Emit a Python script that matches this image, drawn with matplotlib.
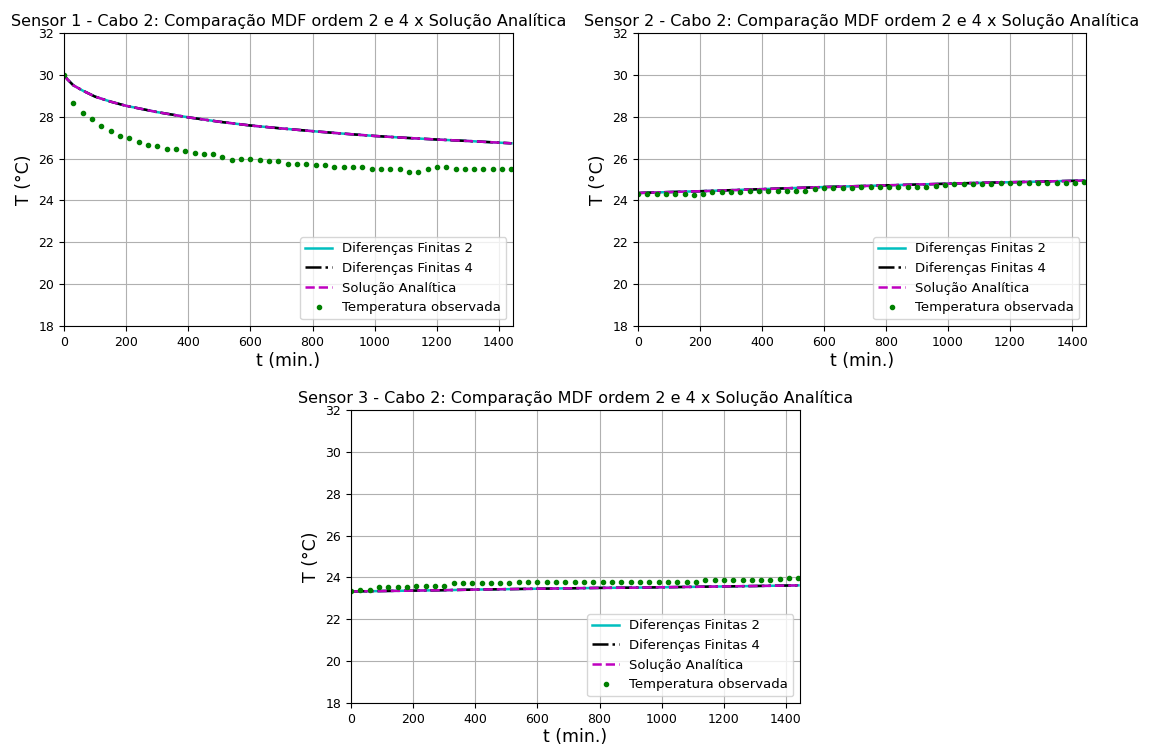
import numpy as np
import matplotlib.pyplot as plt

# tempo das observações (min), a cada 30 min
t_obs = np.arange(0, 1441, 30)

# Sensor 1 - temperatura observada
obs1 = [30.0, 28.64, 28.19, 27.87, 27.54, 27.30, 27.08, 26.97, 26.78, 26.65,
        26.59, 26.46, 26.46, 26.38, 26.27, 26.20, 26.20, 26.06, 25.93, 25.96,
        25.96, 25.93, 25.88, 25.88, 25.76, 25.76, 25.76, 25.69, 25.69, 25.58,
        25.58, 25.58, 25.58, 25.50, 25.50, 25.50, 25.50, 25.37, 25.37, 25.50,
        25.58, 25.58, 25.50, 25.50, 25.50, 25.50, 25.50, 25.50, 25.50]

# Sensor 2 - temperatura observada
obs2 = [24.30, 24.30, 24.30, 24.30, 24.30, 24.30, 24.28, 24.30, 24.40, 24.40,
        24.40, 24.40, 24.43, 24.43, 24.43, 24.43, 24.43, 24.46, 24.46, 24.55,
        24.58, 24.58, 24.58, 24.60, 24.62, 24.64, 24.64, 24.64, 24.64, 24.66,
        24.66, 24.66, 24.70, 24.76, 24.78, 24.78, 24.79, 24.80, 24.80, 24.82,
        24.84, 24.84, 24.84, 24.85, 24.85, 24.85, 24.85, 24.85, 24.86]

# Sensor 3 - temperatura observada
obs3 = [23.34, 23.40, 23.40, 23.53, 23.53, 23.53, 23.53, 23.59, 23.59, 23.59,
        23.59, 23.72, 23.72, 23.72, 23.72, 23.72, 23.72, 23.72, 23.78, 23.78,
        23.78, 23.78, 23.78, 23.80, 23.80, 23.80, 23.80, 23.80, 23.80, 23.80,
        23.80, 23.80, 23.80, 23.80, 23.80, 23.80, 23.80, 23.80, 23.89, 23.89,
        23.89, 23.89, 23.89, 23.89, 23.89, 23.89, 23.92, 23.95, 23.96]

# curvas dos modelos (MDF ordem 2, ordem 4 e analítica praticamente iguais)
t_mod = [0, 10, 30, 60, 100, 150, 200, 300, 400, 500, 600, 700, 800,
         900, 1000, 1100, 1200, 1300, 1440]
mod1 = [30.0, 29.80, 29.50, 29.25, 28.96, 28.72, 28.52, 28.22, 27.97, 27.76,
        27.58, 27.44, 27.31, 27.19, 27.08, 26.99, 26.91, 26.84, 26.73]
mod2 = [24.35, 24.36, 24.37, 24.38, 24.40, 24.42, 24.44, 24.49, 24.54, 24.59,
        24.64, 24.68, 24.72, 24.76, 24.80, 24.84, 24.87, 24.90, 24.95]
mod3 = [23.33, 23.33, 23.34, 23.34, 23.35, 23.36, 23.37, 23.39, 23.42, 23.44,
        23.46, 23.48, 23.50, 23.51, 23.53, 23.55, 23.57, 23.59, 23.62]

titles = ["Sensor 1 - Cabo 2: Comparação MDF ordem 2 e 4 x Solução Analítica",
          "Sensor 2 - Cabo 2: Comparação MDF ordem 2 e 4 x Solução Analítica",
          "Sensor 3 - Cabo 2: Comparação MDF ordem 2 e 4 x Solução Analítica"]

fig = plt.figure(figsize=(11.49, 7.49), dpi=100)
W, H = 1149, 749
boxes = [(64, 33, 513, 326), (638, 33, 1086, 326), (351, 410, 800, 703)]

for (x0, y0, x1, y1), title, mod, obs in zip(boxes, titles, [mod1, mod2, mod3], [obs1, obs2, obs3]):
    ax = fig.add_axes([x0 / W, 1 - y1 / H, (x1 - x0) / W, (y1 - y0) / H])
    ax.plot(t_mod, mod, color='c', lw=1.8, label='Diferenças Finitas 2')
    ax.plot(t_mod, mod, color='k', ls='-.', lw=1.8, label='Diferenças Finitas 4')
    ax.plot(t_mod, mod, color='m', ls='--', lw=1.8, label='Solução Analítica')
    ax.plot(t_obs, obs, 'o', color='green', ms=3.0, label='Temperatura observada')
    ax.set_xlim(0, 1445)
    ax.set_ylim(18, 32)
    ax.set_yticks(range(18, 33, 2))
    ax.set_xticks(range(0, 1401, 200))
    ax.tick_params(labelsize=9)
    ax.grid(True)
    ax.set_title(title, fontsize=11.5, pad=5)
    ax.set_xlabel('t (min.)', fontsize=12.5, labelpad=2)
    ax.set_ylabel('T (°C)', fontsize=12.5)
    ax.legend(loc='lower right', fontsize=9.5)

fig.savefig('out.png', dpi=100)
